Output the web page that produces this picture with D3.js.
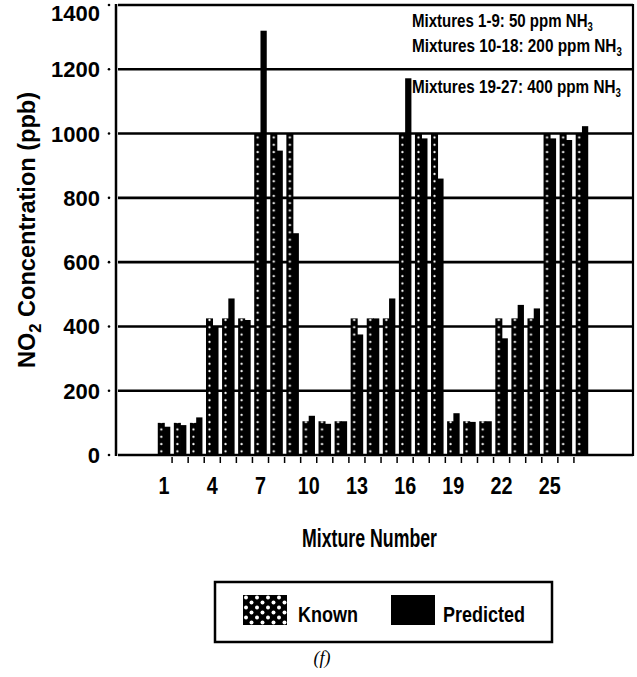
<!DOCTYPE html>
<html>
<head>
<meta charset="utf-8">
<script src="https://cdn.jsdelivr.net/npm/d3@7"></script>
<style>
  html, body { margin: 0; padding: 0; background: #fff; }
  svg { display: block; }
  text { font-family: "Liberation Sans", Arial, sans-serif; font-weight: bold; fill: #000; }
</style>
</head>
<body>
<svg id="chart" width="637" height="677"></svg>
<script>
// ---- data ----
const mixtures = d3.range(1, 28);
const knownValues = [100, 100, 100, 425, 425, 425, 1000, 1000, 1000,
                     105, 105, 105, 425, 425, 425, 1000, 1000, 1000,
                     105, 105, 105, 425, 425, 425, 1000, 1000, 1000];
const predictedValues = [88, 93, 117, 400, 487, 420, 1320, 947, 690,
                         122, 97, 105, 375, 425, 487, 1172, 985, 860,
                         130, 103, 105, 363, 467, 456, 985, 980, 1023];
const yTicks = [0, 200, 400, 600, 800, 1000, 1200, 1400];
const xTickLabels = [1, 4, 7, 10, 13, 16, 19, 22, 25];
const notes = [
  { main: "Mixtures 1-9: 50 ppm NH", sub: "3" },
  { main: "Mixtures 10-18: 200 ppm NH", sub: "3" },
  { main: "Mixtures 19-27: 400 ppm NH", sub: "3" }
];
const legendItems = ["Known", "Predicted"];

// ---- layout ----
const plotLeft = 116, plotRight = 633, plotTop = 5, plotBottom = 455;
const svg = d3.select("#chart");

const x = d3.scaleBand().domain(mixtures).range([156, 590])
  .paddingInner(0.22).paddingOuter(0.11);
const y = d3.scaleLinear().domain([0, 1400]).range([plotBottom, plotTop]);

const bw = x.bandwidth();
const knownW = bw * 0.56, predOff = bw * 0.5, predW = bw * 0.5;

// patterns
const defs = svg.append("defs");
const pat = defs.append("pattern")
  .attr("id", "dots")
  .attr("patternUnits", "userSpaceOnUse")
  .attr("x", x(1) + knownW / 2 - x.step() / 2)
  .attr("y", y(0) - 7.3)
  .attr("width", x.step())
  .attr("height", 7.3);
pat.append("rect").attr("width", x.step()).attr("height", 7.3).attr("fill", "#000");
pat.append("circle").attr("cx", x.step() / 2).attr("cy", 3.6).attr("r", 1.1).attr("fill", "#fff");

const pat2 = defs.append("pattern")
  .attr("id", "dotsLegend")
  .attr("patternUnits", "userSpaceOnUse")
  .attr("x", 243).attr("y", 595)
  .attr("width", 11).attr("height", 10);
pat2.append("rect").attr("width", 11).attr("height", 10).attr("fill", "#000");
pat2.append("circle").attr("cx", 3).attr("cy", 2.5).attr("r", 2).attr("fill", "#fff");
pat2.append("circle").attr("cx", 8.5).attr("cy", 7.5).attr("r", 2).attr("fill", "#fff");

// gridlines
svg.append("g").selectAll("line").data(yTicks).join("line")
  .attr("x1", plotLeft + 2).attr("x2", plotRight)
  .attr("y1", d => y(d)).attr("y2", d => y(d))
  .attr("stroke", "#000").attr("stroke-width", 2.6);

// frame: left axis and right border
svg.append("line").attr("x1", plotLeft).attr("x2", plotLeft)
  .attr("y1", plotTop - 1).attr("y2", plotBottom + 1)
  .attr("stroke", "#000").attr("stroke-width", 2.5);
svg.append("line").attr("x1", plotRight).attr("x2", plotRight)
  .attr("y1", plotTop - 1).attr("y2", plotBottom + 1)
  .attr("stroke", "#000").attr("stroke-width", 2.2);

// y tick dots and labels
const yAxis = svg.append("g");
yAxis.selectAll("circle").data(yTicks).join("circle")
  .attr("cx", 109).attr("cy", d => y(d)).attr("r", 1.3).attr("fill", "#000");
yAxis.selectAll("text").data(yTicks).join("text")
  .attr("x", 100).attr("y", d => Math.max(y(d) + 8, 21))
  .attr("text-anchor", "end")
  .attr("font-size", 22)
  .text(d => d);

// bars
const groups = svg.append("g").selectAll("g").data(mixtures).join("g");
groups.append("rect")
  .attr("x", d => x(d)).attr("width", knownW)
  .attr("y", (d, i) => y(knownValues[i]))
  .attr("height", (d, i) => y(0) - y(knownValues[i]))
  .attr("fill", "url(#dots)");
groups.append("rect")
  .attr("x", d => x(d) + predOff).attr("width", predW)
  .attr("y", (d, i) => y(predictedValues[i]))
  .attr("height", (d, i) => y(0) - y(predictedValues[i]))
  .attr("fill", "#000");

// x ticks at group boundaries
svg.append("g").selectAll("line").data(mixtures.slice(1)).join("line")
  .attr("x1", d => x(d) - x.step() * 0.11).attr("x2", d => x(d) - x.step() * 0.11)
  .attr("y1", plotBottom + 2).attr("y2", plotBottom + 8)
  .attr("stroke", "#000").attr("stroke-width", 1.5);

// x labels
svg.append("g").selectAll("text").data(xTickLabels).join("text")
  .attr("x", d => x(d) + bw / 2).attr("y", 494)
  .attr("text-anchor", "middle")
  .attr("font-size", 24)
  .attr("textLength", d => String(d).length * 11)
  .attr("lengthAdjust", "spacingAndGlyphs")
  .text(d => d);

// axis titles
svg.append("text")
  .attr("x", 302).attr("y", 547)
  .attr("font-size", 25)
  .attr("textLength", 135).attr("lengthAdjust", "spacingAndGlyphs")
  .text("Mixture Number");

const yTitle = svg.append("text")
  .attr("transform", "translate(35,368) rotate(-90)")
  .attr("font-size", 24)
  .attr("textLength", 276).attr("lengthAdjust", "spacingAndGlyphs");
yTitle.append("tspan").text("NO");
yTitle.append("tspan").attr("font-size", 17).attr("dy", 6).text("2");
yTitle.append("tspan").attr("dy", -6).text(" Concentration (ppb)");

// annotations: condensed by horizontal scale so the real box matches
const noteY = [27, 52, 93];
const noteLen = [181, 210, 209];
notes.forEach((n, i) => {
  const g = svg.append("g");
  const t = g.append("text").attr("x", 0).attr("y", 0).attr("font-size", 19);
  t.append("tspan").text(n.main);
  t.append("tspan").attr("font-size", 12).attr("dy", 4).text(n.sub);
  const natural = t.node().getComputedTextLength();
  g.attr("transform", `translate(412,${noteY[i]}) scale(${noteLen[i] / natural},1)`);
});

// legend
svg.append("rect").attr("x", 215).attr("y", 582).attr("width", 337).attr("height", 60)
  .attr("fill", "none").attr("stroke", "#000").attr("stroke-width", 2.5);
const legX = [243, 391];
const legTextX = [298, 443];
const legTextLen = [60, 82];
const leg = svg.append("g").selectAll("g").data(legendItems).join("g");
leg.append("rect")
  .attr("x", (d, i) => legX[i]).attr("y", 595).attr("width", 44).attr("height", 30)
  .attr("fill", (d, i) => i === 0 ? "url(#dotsLegend)" : "#000");
leg.append("text")
  .attr("x", (d, i) => legTextX[i]).attr("y", 622)
  .attr("font-size", 22)
  .attr("textLength", (d, i) => legTextLen[i]).attr("lengthAdjust", "spacingAndGlyphs")
  .text(d => d);

// panel label
svg.append("text")
  .attr("x", 322).attr("y", 664)
  .attr("text-anchor", "middle")
  .attr("font-size", 18)
  .attr("font-style", "italic")
  .style("font-family", "'Liberation Serif', serif")
  .style("font-weight", "normal")
  .text("(f)");
</script>
</body>
</html>
